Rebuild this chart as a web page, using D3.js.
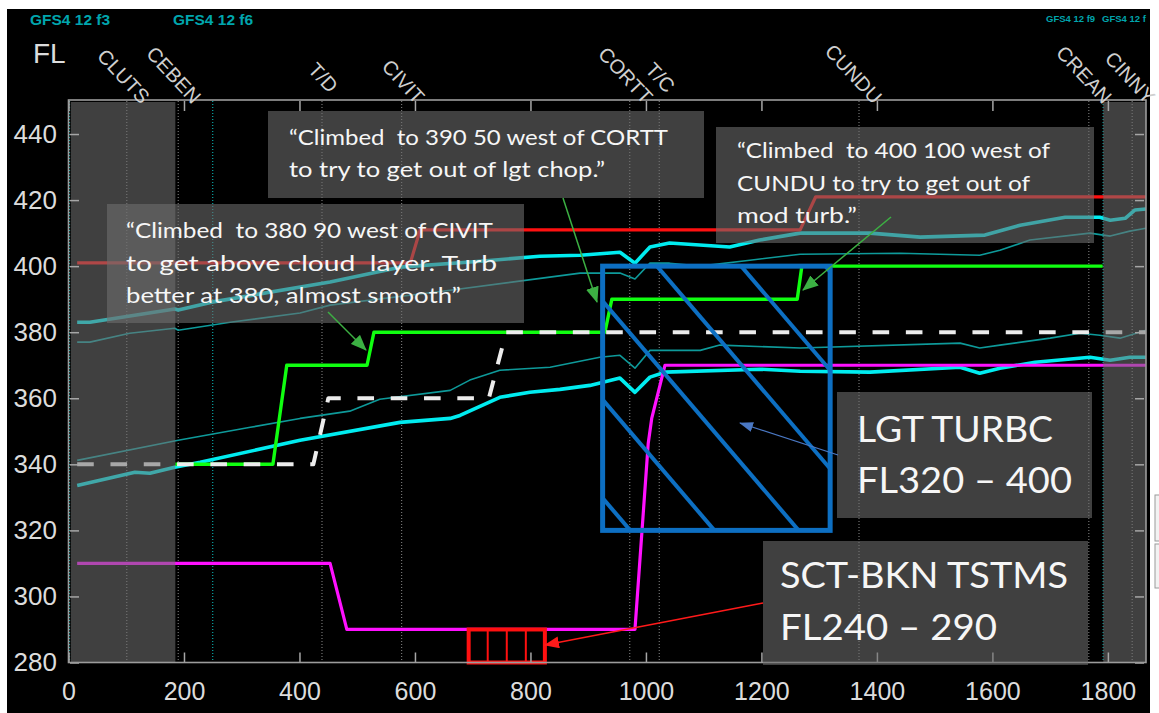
<!DOCTYPE html>
<html><head><meta charset="utf-8">
<script src="https://cdn.jsdelivr.net/npm/d3@7"></script>
<style>body{margin:0;background:#fff;} svg{display:block} text{white-space:pre}</style>
</head><body>
<svg id="c" width="1159" height="713"></svg>
<script>
// ---------- DATA ----------
const xTicks = [0,200,400,600,800,1000,1200,1400,1600,1800];
const yTicks = [280,300,320,340,360,380,400,420,440];
const waypoints = [
  {name:"CLUTS", dist:101, kind:"fix"},
  {name:"CEBEN", dist:190, kind:"fix"},
  {name:"T/D",   dist:439, kind:"pseudo"},
  {name:"CIVIT", dist:577, kind:"fix"},
  {name:"CORTT", dist:972, kind:"fix"},
  {name:"T/C",   dist:1023, kind:"pseudo"},
  {name:"CUNDU", dist:1369, kind:"fix"},
  {name:"CREAN", dist:1767, kind:"fix"},
  {name:"CINNY", dist:1842, kind:"fix"}
];
const modelBounds = [0, 248, 1790];
const modelLabels = ["GFS4 12 f3","GFS4 12 f6","GFS4 12 f9","GFS4 12 f"];
const shadedRanges = [[4,185],[1792,1866]];

const cyanUpper = [[15,383],[37,383],[184,387],[190,386.7],[248,389.1],[453,395.2],[574,399.7],[713,401.5],[816,403],[886,403.3],[955,404.2],[981,400.9],[1007,405.8],[1041,407],[1145,405.8],[1197,407.9],[1267,410],[1388,410],[1475,408.8],[1587,409.4],[1648,412.4],[1726,414.8],[1786,414.8],[1804,413.9],[1830,414.5],[1847,417],[1866,417.3]];
const tealUpper = [[15,377],[37,377],[106,379.7],[184,381.2],[190,380.6],[280,383],[401,385.8],[453,388.2],[661,392.7],[886,397.9],[955,397.9],[981,396.1],[1007,400.9],[1041,400.9],[1094,400],[1180,401.8],[1267,403.6],[1440,403.9],[1578,403.3],[1613,404.8],[1665,407.9],[1769,410],[1804,409.1],[1838,410.6],[1866,411.5]];
const cyanLower = [[15,333.6],[115,337.6],[141,337.3],[184,339.1],[228,340.6],[401,347.3],[574,352.7],[661,353.9],[678,354.8],[747,360.3],[799,361.8],[851,362.7],[903,363.9],[955,366.1],[981,361.8],[1007,366.4],[1033,367.9],[1197,368.8],[1267,368.2],[1388,367.9],[1544,369.4],[1578,367.6],[1613,369.1],[1674,370.9],[1769,372.4],[1804,371.5],[1838,372.4],[1866,372.4]];
const tealLower = [[15,341.2],[190,347.3],[315,351.2],[401,353.9],[487,356.1],[539,359.7],[661,362.4],[695,365.5],[747,368.5],[834,369.4],[920,372.4],[955,373],[981,369.1],[1007,374.5],[1094,374.5],[1128,376.1],[1267,375.2],[1544,376.7],[1578,375.2],[1613,376.1],[1700,378.2],[1752,379.7],[1786,379.1],[1821,378.2],[1866,380.6]];
const redLine = [[15,401],[592,401],[609,411],[1267,411],[1294,421],[1866,421]];
const magentaLine = [[15,310],[453,310],[482,290],[981,290],[1004,346.4],[1010,353.9],[1033,370],[1866,370]];
const flownLine = [[185,340],[354,340],[378,370],[517,370],[529,380],[929,380],[941,390],[1262,390],[1270,400],[1791,400]];
const plannedLine = [[15,340],[424,340],[450,360],[728,360],[758,380],[1866,380]];

const turbDist = [925, 1319], turbFL = [320, 400];
const tstmDist = [693, 825], tstmFL = [240, 290];

const noteCivit = ["\u201CClimbed  to 380 90 west of CIVIT","to get above cloud  layer. Turb","better at 380, almost smooth\u201D"];
const noteCortt = ["\u201CClimbed  to 390 50 west of CORTT","to try to get out of lgt chop.\u201D"];
const noteCundu = ["\u201CClimbed  to 400 100 west of","CUNDU to try to get out of","mod turb.\u201D"];
const noteTurb = ["LGT TURBC","FL320 \u2013 400"];
const noteTstm = ["SCT-BKN TSTMS","FL240 \u2013 290"];

// ---------- CHART ----------
const svg = d3.select("#c");
const x = d3.scaleLinear().domain([0,1866]).range([68.5,1146]);
const y = d3.scaleLinear().domain([280,450]).range([662.5,101]);
const X0 = x(0), X1 = x(1866), Y0 = y(280), Y1 = y(450);

svg.append("rect").attr("x",7).attr("y",9).attr("width",1143).attr("height",704).attr("fill","#000");

const defs = svg.append("defs");
defs.append("clipPath").attr("id","plotClip").append("rect")
  .attr("x",X0).attr("y",Y1).attr("width",X1-X0).attr("height",Y0-Y1);
function marker(id,color,w,h){
  defs.append("marker").attr("id",id).attr("markerUnits","userSpaceOnUse")
    .attr("viewBox",`0 0 ${w} ${h}`).attr("markerWidth",w).attr("markerHeight",h)
    .attr("refX",w-1).attr("refY",h/2).attr("orient","auto")
    .append("path").attr("d",`M0,0L${w},${h/2}L0,${h}Z`).attr("fill",color);
}
marker("mg","#3cb043",16,13);
marker("mb","#4a78c4",14,10);
marker("mr","#ff1a1a",15,12);

// vertical dotted reference lines
svg.append("g").selectAll("line").data(waypoints).join("line")
  .attr("x1",d=>x(d.dist)).attr("x2",d=>x(d.dist)).attr("y1",Y1).attr("y2",Y0)
  .attr("stroke","#8a8a8a").attr("stroke-width",1).attr("stroke-dasharray","1,2");
svg.append("g").selectAll("line").data(modelBounds).join("line")
  .attr("x1",d=>x(d)+1).attr("x2",d=>x(d)+1).attr("y1",Y1).attr("y2",Y0)
  .attr("stroke","#0aa5a5").attr("stroke-width",1.2).attr("stroke-dasharray","1,2");

const line = d3.line().x(d=>x(d[0])).y(d=>y(d[1]));
const lines = svg.append("g").attr("clip-path","url(#plotClip)").attr("fill","none").attr("stroke-linejoin","round");
lines.append("path").datum(tealUpper).attr("d",line).attr("stroke","#0e9a9a").attr("stroke-width",1.6);
lines.append("path").datum(tealLower).attr("d",line).attr("stroke","#0e9a9a").attr("stroke-width",1.6);
lines.append("path").datum(cyanUpper).attr("d",line).attr("stroke","#00ecf0").attr("stroke-width",3.6);
lines.append("path").datum(cyanLower).attr("d",line).attr("stroke","#00ecf0").attr("stroke-width",3.6);
lines.append("path").datum(redLine).attr("d",line).attr("stroke","#ff1010").attr("stroke-width",3.2);
lines.append("path").datum(magentaLine).attr("d",line).attr("stroke","#ff10ff").attr("stroke-width",3.2);
lines.append("path").datum(flownLine).attr("d",line).attr("stroke","#10ff10").attr("stroke-width",3.4);
lines.append("path").datum(plannedLine).attr("d",line).attr("stroke","#ececec").attr("stroke-width",4).attr("stroke-dasharray","16.6,16.7");

// turbulence region (blue hatched box)
const tx0 = x(turbDist[0]), tx1 = x(turbDist[1]), ty0 = y(turbFL[1]), ty1 = y(turbFL[0]);
defs.append("clipPath").attr("id","turbClip").append("rect")
  .attr("x",tx0).attr("y",ty0).attr("width",tx1-tx0).attr("height",ty1-ty0);
const slope = 1.17, hatchCs = d3.range(0,7).map(k=>-207-k*98.5);
svg.append("g").attr("clip-path","url(#turbClip)").selectAll("line").data(hatchCs).join("line")
  .attr("x1",c=>(ty0-60-c)/slope).attr("y1",ty0-60).attr("x2",c=>(ty1+60-c)/slope).attr("y2",ty1+60)
  .attr("stroke","#0d6fc2").attr("stroke-width",4);
svg.append("rect").attr("x",tx0).attr("y",ty0).attr("width",tx1-tx0).attr("height",ty1-ty0)
  .attr("fill","none").attr("stroke","#0d6fc2").attr("stroke-width",5);

// thunderstorm region (red box, clipped at plot bottom)
const sx0 = x(tstmDist[0]), sx1 = x(tstmDist[1]), sy0 = y(tstmFL[1]), sy1 = y(Math.max(tstmFL[0], 280));
svg.append("g").selectAll("line").data(d3.range(1,4)).join("line")
  .attr("x1",k=>sx0+(sx1-sx0)*k/4).attr("x2",k=>sx0+(sx1-sx0)*k/4).attr("y1",sy0).attr("y2",sy1)
  .attr("stroke","#ff1010").attr("stroke-width",2);
svg.append("rect").attr("x",sx0).attr("y",sy0).attr("width",sx1-sx0).attr("height",sy1-sy0)
  .attr("fill","none").attr("stroke","#ff1010").attr("stroke-width",4);

// shaded (outside) regions
svg.append("g").selectAll("rect").data(shadedRanges).join("rect")
  .attr("x",d=>x(d[0])).attr("width",d=>x(d[1])-x(d[0])).attr("y",Y1+1).attr("height",Y0-Y1-1.5)
  .attr("fill","#727272").attr("fill-opacity",0.56);

// axes
const axisColor = "#a6a6a6", labelColor = "#dcdcdc";
function styleAxis(g){
  g.select(".domain").remove();
  g.selectAll(".tick line").attr("stroke",axisColor).attr("stroke-width",1.5);
  g.selectAll(".tick text").attr("fill",labelColor).attr("font-family","'Liberation Sans', Arial, sans-serif");
}
svg.append("g").attr("transform",`translate(0,${Y0})`)
  .call(d3.axisBottom(x).tickValues(xTicks).tickFormat(d3.format("d")).tickSizeInner(-10).tickSizeOuter(0).tickPadding(19.5))
  .call(styleAxis).call(g=>g.selectAll(".tick text").attr("font-size",25));
svg.append("g").attr("transform",`translate(0,${Y1})`)
  .call(d3.axisTop(x).tickValues(xTicks).tickSizeInner(-10).tickSizeOuter(0).tickFormat(""))
  .call(styleAxis);
svg.append("g").attr("transform",`translate(${X0+1.5},0)`)
  .call(d3.axisLeft(y).tickValues(yTicks).tickFormat(d3.format("d")).tickSizeInner(-9).tickSizeOuter(0).tickPadding(13))
  .call(styleAxis).call(g=>g.selectAll(".tick text").attr("font-size",26));
svg.append("g").attr("transform",`translate(${X1-2},0)`)
  .call(d3.axisRight(y).tickValues(yTicks).tickSizeInner(-9).tickSizeOuter(0).tickFormat(""))
  .call(styleAxis);
svg.append("rect").attr("x",X0).attr("y",Y1-1).attr("width",X1-X0).attr("height",Y0-Y1+1)
  .attr("fill","none").attr("stroke","#9c9c9c").attr("stroke-width",1.6);

// annotation boxes
const noteFont = "Lato, 'Open Sans', sans-serif";
function note(box, lines, x0, baselines, widths, size){
  svg.append("rect").attr("x",box[0]).attr("y",box[1]).attr("width",box[2]-box[0]).attr("height",box[3]-box[1])
    .attr("fill","#6e6e6e").attr("fill-opacity",0.58);
  svg.append("g").selectAll("text").data(lines).join("text")
    .attr("x",x0).attr("y",(d,i)=>baselines[i]).text(d=>d)
    .attr("textLength",(d,i)=>widths[i]).attr("lengthAdjust","spacingAndGlyphs")
    .attr("font-family",noteFont).attr("font-size",size).attr("fill","#f6f6f6");
}
note([107,204,524,323], noteCivit, 126, [238,271,303], [367,371,335], 22);
note([268,111,704,198], noteCortt, 289, [145,177], [379,316], 22);
note([716,127,1094,243], noteCundu, 737, [158,191,223], [313,293,120], 22);
note([837,392,1092,518], noteTurb, 857, [442,493], [196,215], 37);
note([763,541,1088,665], noteTstm, 780, [588,640], [288,217], 37);

// arrows
function arrow(p0,p1,color,m,w){
  svg.append("line").attr("x1",p0[0]).attr("y1",p0[1]).attr("x2",p1[0]).attr("y2",p1[1])
    .attr("stroke",color).attr("stroke-width",w).attr("marker-end",`url(#${m})`);
}
arrow([328,312],[366,350],"#3cb043","mg",1.5);
arrow([563,198],[597,302],"#3cb043","mg",1.5);
arrow([891,217],[803,290],"#3cb043","mg",1.5);
arrow([838,455],[740,423],"#4a78c4","mb",1.3);
arrow([763,603],[545,645],"#ff1a1a","mr",1.5);

// waypoint labels
svg.append("g").selectAll("text").data(waypoints).join("text")
  .attr("transform",d=> d.kind==="fix" ? `translate(${x(d.dist)+14},105) rotate(47)` : `translate(${x(d.dist)+7},94) rotate(47)`)
  .attr("text-anchor","end").text(d=>d.name)
  .attr("font-family","'Liberation Sans', Arial, sans-serif").attr("font-size",20).attr("fill","#cfcfcf");

// model labels
const modelPos = [[30,25,15.5],[173,25,15.5],[1046,22,9.5],[1102,22,9.5]];
svg.append("g").selectAll("text").data(modelLabels).join("text")
  .attr("x",(d,i)=>modelPos[i][0]).attr("y",(d,i)=>modelPos[i][1]).text(d=>d)
  .attr("font-family","'Liberation Sans Narrow', 'Liberation Sans', Arial, sans-serif")
  .attr("font-size",(d,i)=>modelPos[i][2]).attr("font-weight","bold").attr("fill","#00a5ad");

svg.append("text").attr("x",33).attr("y",63).text("FL")
  .attr("font-family","'Liberation Sans', Arial, sans-serif").attr("font-size",28).attr("fill","#dcdcdc");

// small ui fragment at right edge
svg.append("rect").attr("x",1155).attr("y",495).attr("width",6).attr("height",46).attr("fill","#f2f2f2").attr("stroke","#9a9a9a");
svg.append("rect").attr("x",1155).attr("y",544).attr("width",6).attr("height",44).attr("fill","#f2f2f2").attr("stroke","#9a9a9a");
</script>
</body></html>
